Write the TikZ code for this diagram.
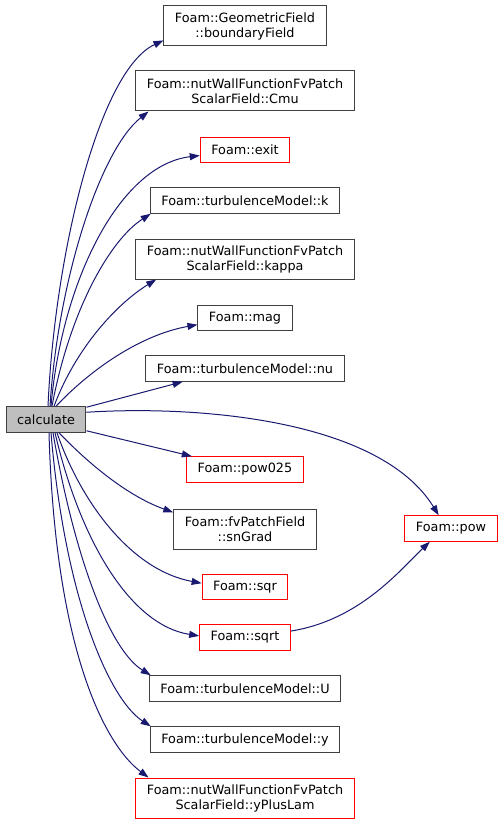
\documentclass[tikz,border=0pt]{standalone}
\usepackage{fontspec}
\setmainfont{DejaVu Sans}
\usetikzlibrary{arrows.meta}
\definecolor{edgeblue}{HTML}{191970}
\definecolor{boxgray}{HTML}{404040}
\definecolor{callgray}{HTML}{BFBFBF}
\begin{document}
\begin{tikzpicture}[x=1pt,y=-1pt,font=\fontsize{12.8}{15}\selectfont,
  box/.style={draw=boxgray,line width=1pt,align=center,inner xsep=11pt,inner ysep=0pt,minimum height=25.5pt},
  twoline/.style={minimum height=40pt},
  redbox/.style={box,draw=red},
  edge/.style={draw=edgeblue,line width=1pt,-{Triangle[length=10pt,width=7pt]}}]
\useasboundingbox (0,0) rectangle (503,824);
\node[box,fill=callgray] (calc) at (46,419.5) {calculate};
\node[box,twoline] (bf) at (245,26) {Foam::GeometricField\\::boundaryField};
\node[box,twoline] (cmu) at (245,91) {Foam::nutWallFunctionFvPatch\\ScalarField::Cmu};
\node[redbox] (exit) at (245,150) {Foam::exit};
\node[box] (k) at (245,200.5) {Foam::turbulenceModel::k};
\node[box,twoline] (kappa) at (245,259) {Foam::nutWallFunctionFvPatch\\ScalarField::kappa};
\node[box] (mag) at (245,318) {Foam::mag};
\node[box] (nu) at (245,368.5) {Foam::turbulenceModel::nu};
\node[redbox] (pow025) at (245,469.5) {Foam::pow025};
\node[box,twoline] (sngrad) at (245,529) {Foam::fvPatchField\\::snGrad};
\node[redbox] (pow) at (451,528.5) {Foam::pow};
\node[redbox] (sqr) at (245,587) {Foam::sqr};
\node[redbox] (sqrt) at (245,637.5) {Foam::sqrt};
\node[box] (u) at (245,688.5) {Foam::turbulenceModel::U};
\node[box] (y) at (245,739.5) {Foam::turbulenceModel::y};
\node[redbox,twoline] (ypl) at (245,798) {Foam::nutWallFunctionFvPatch\\ScalarField::yPlusLam};
% calls upwards
\draw[edge] ([xshift=2pt]calc.north) .. controls (55,250) and (100,70) .. (bf.190);
\draw[edge] ([xshift=4pt]calc.north) .. controls (58,280) and (100,150) .. (cmu.192);
\draw[edge] ([xshift=5pt]calc.north) .. controls (62,280) and (120,165) .. (exit.187);
\draw[edge] ([xshift=6pt]calc.north) .. controls (70,310) and (110,240) .. (k.188);
\draw[edge] ([xshift=8pt]calc.north) .. controls (75,350) and (115,305) .. (kappa.193);
\draw[edge] ([xshift=10pt]calc.north) .. controls (90,370) and (140,335) .. (mag.188);
\draw[edge] ([yshift=-1pt]calc.north east) -- (nu.192);
\draw[edge] ([yshift=-6pt]calc.north east) .. controls (200,405) and (380,420) .. (pow.133);
% calls downwards
\draw[edge] ([yshift=2pt]calc.south east) -- (pow025.166);
\draw[edge] ([xshift=13pt]calc.south) .. controls (85,460) and (125,495) .. (sngrad.167);
\draw[edge] ([xshift=11pt]calc.south) .. controls (80,500) and (130,570) .. (sqr.175);
\draw[edge] ([xshift=9pt]calc.south) .. controls (80,540) and (130,625) .. (sqrt.178);
\draw[edge] ([xshift=7pt]calc.south) .. controls (75,560) and (110,650) .. (u.172);
\draw[edge] ([xshift=5pt]calc.south) .. controls (65,600) and (110,700) .. (y.172);
\draw[edge] ([xshift=3pt]calc.south) .. controls (55,650) and (105,745) .. (ypl.168);
\draw[edge] (sqrt.8) .. controls (360,620) and (400,570) .. (pow.212);
\end{tikzpicture}
\end{document}
